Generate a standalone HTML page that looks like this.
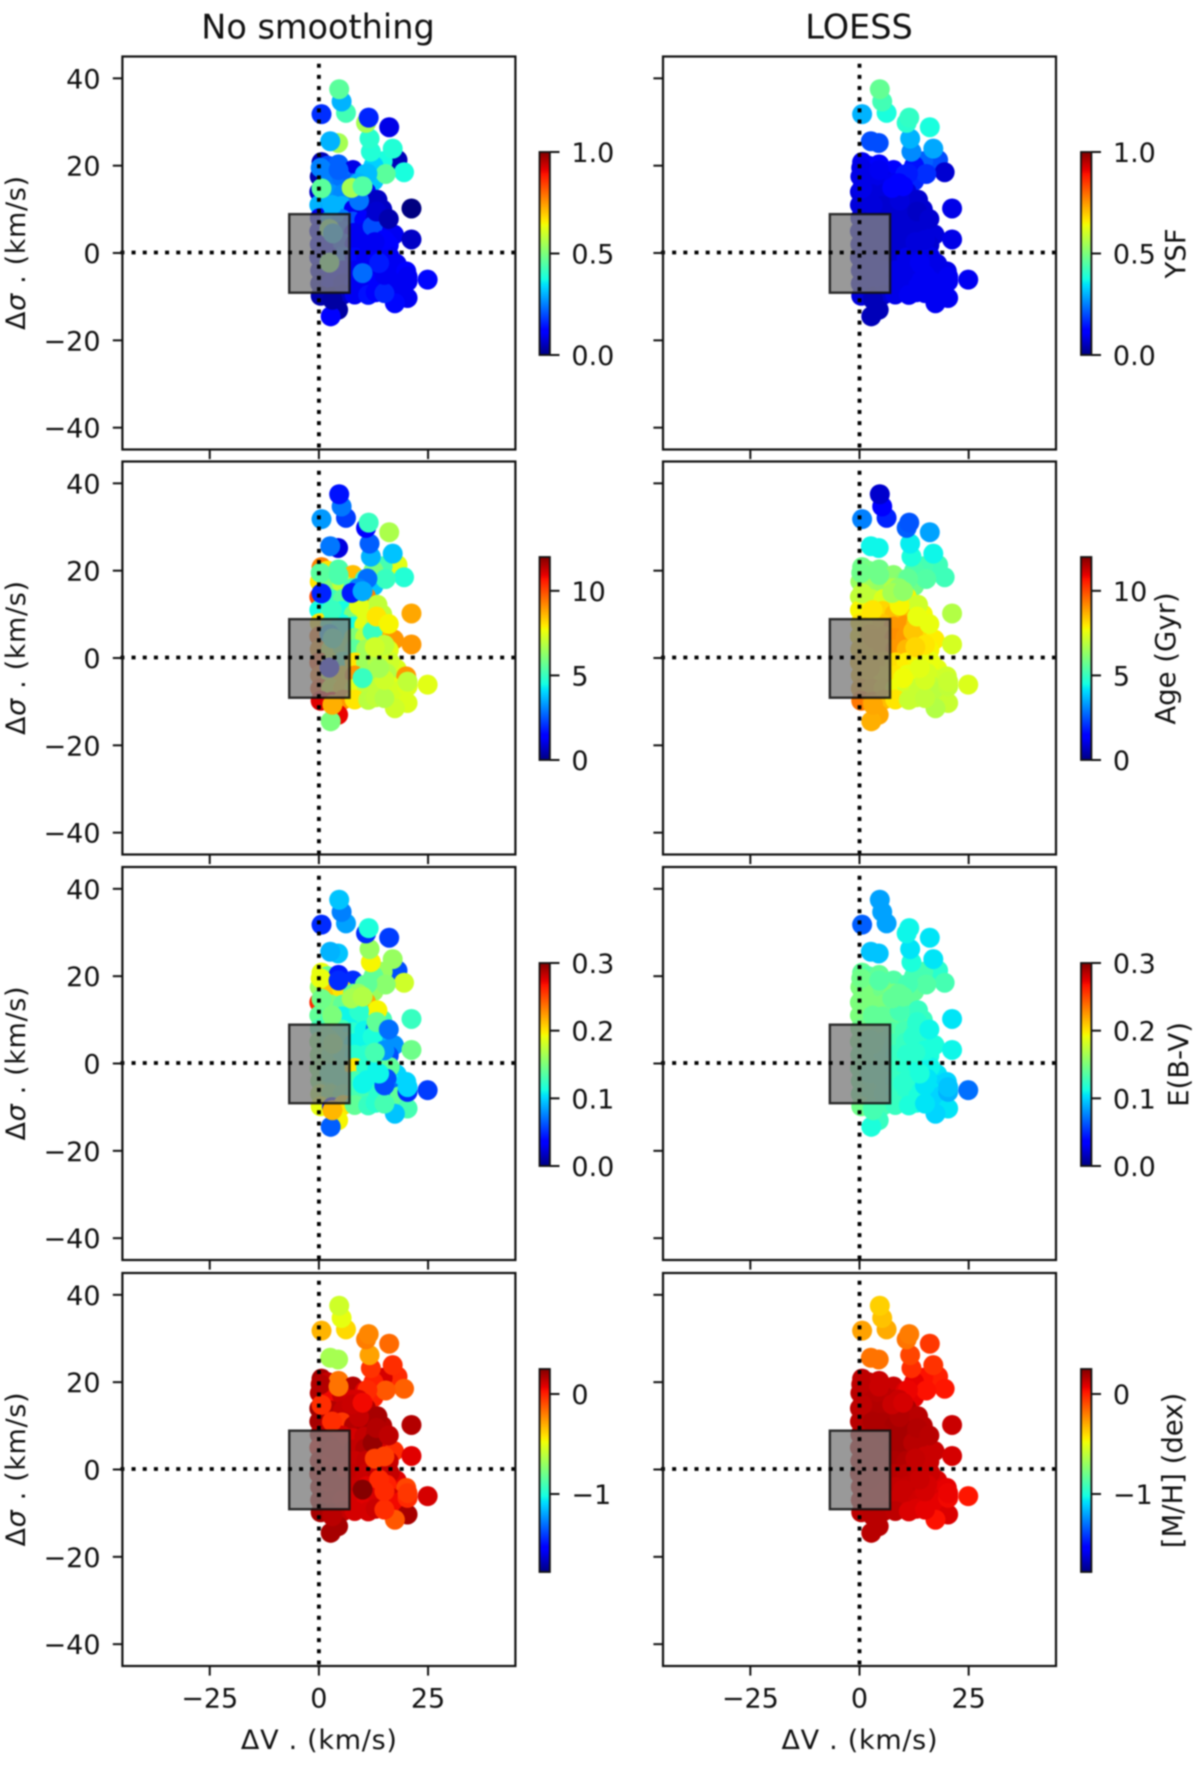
<!DOCTYPE html>
<html lang="en">
<head>
<meta charset="utf-8">
<title>Stellar population maps: No smoothing vs LOESS</title>
<style>
html,body{margin:0;padding:0;background:#fff;}
#chart{display:block;width:1200px;height:1765px;filter:blur(0.9px);font-family:"DejaVu Sans","Liberation Sans",sans-serif;fill:#111;}
</style>
</head>
<body>
<svg id="chart" xmlns="http://www.w3.org/2000/svg" width="1200" height="1765" viewBox="0 0 1200 1765">
<defs>
<linearGradient id="jet-gradient" x1="0" y1="1" x2="0" y2="0"></linearGradient>
</defs>
</svg>
<script>
const deltaV = [
17.8,18,
0.6,2.0,4.5,7.8,10.5,12.5,0.2,2.8,5.3,7.8,
0.1,2.7,5.5,8.3,10.8,0.1,2.8,5.3,8,10.6,
0.2,2.6,5.2,7.8,10.4,13,14.5,0.1,2.8,5.5,
8,10.6,13.4,15.5,17.2,0.2,2.8,5.5,8.2,10.8,
13.4,16,0.1,2.8,5.5,8.2,10.8,13.4,16.2,0.3,
2.8,5.5,8.2,11,15.5,20,0.3,2.8,5.5,8.2,
11,13.6,16.5,18.5,0.4,3,5.6,8.2,20.3,4.4,
2.7,3.1,11.3,13,17.4,15,20.3,20.3,15,13.8,
10,2.4,2.4,3.2,12.3,15,12.8,13.4,13.2,16,
9.2,3,21.2,21.2,24.9,18,14.6,12.5,19.5,15.3,
11.1,9,7.5,10,0.6,0.4,4.5,16.9,11.9,11.6,
4.4,2.6,16.1,10.8,11.4,0.6,6.2,5.2,4.65];
const deltaSigma = [
-2.5,-5,
20.8,20,20.3,19,18,16.5,17.5,16.8,17,16,
14,13.5,13.5,13.2,14,11,10.5,10.8,10,10.8,
8,7.6,7.8,7.2,7.5,8,10,5,4.8,5,
4.6,4.8,5,4.5,4.2,2,2,2.2,2,2,
2.2,1.8,-1,-1,-0.8,-1,-1,-1,-0.8,-4,
-4,-4,-4,-3.8,-3.5,-4.2,-7,-7,-7,-7,
-6.8,-6.8,-6.5,-7.5,-9.8,-10,-9.5,-9.5,-10.3,-13,
-14.5,-10.7,-9.6,-9,-11.5,-9.2,-6.5,-5.4,-5,-2.3,
-4.6,-2.2,5.5,4.5,6.1,3,2.5,12.2,9.5,7.8,
12,11,10.2,3.1,-6.1,21.3,21,20,18.5,18.1,
18.2,16,14.9,15.3,14.8,19.5,19,23.9,23.2,26.2,
25.2,25.6,28.8,29.8,31,31.8,32.1,34.7,37.5];

const ysfRaw = [
.1,.1,
.05,.2,.22,.09,.3,.32,.04,.25,.24,.22,
.06,.27,.26,.22,.1,.3,.28,.3,.1,.08,
.1,.28,.25,.2,.11,.08,.06,.1,.26,.22,
.1,.1,.1,.1,.1,.12,.13,.2,.1,.1,
.12,.12,.1,.13,.22,.13,.1,.11,.1,.08,
.1,.12,.1,.1,.1,.11,.06,.1,.08,.1,
.1,.11,.1,.1,.04,.04,.06,.1,.1,.03,
.11,.03,.14,.12,.13,.16,.1,.1,.1,.15,
.23,.5,.5,.3,.2,.12,.1,.06,.07,.04,
.24,.3,.0,.06,.13,.05,.38,.33,.38,.46,
.31,.3,.55,.45,.46,.25,.22,.39,.39,.4,
.55,.3,.09,.55,.16,.17,.43,.3,.46];
const ysfLoess = [
.09,.09,
.1,.1,.11,.12,.15,.16,.09,.09,.09,.1,
.08,.08,.08,.08,.08,.08,.08,.07,.07,.07,
.08,.07,.07,.07,.07,.07,.07,.08,.07,.07,
.07,.07,.07,.07,.08,.08,.07,.07,.07,.07,
.07,.07,.08,.07,.07,.07,.09,.09,.09,.08,
.08,.08,.09,.09,.09,.09,.08,.08,.08,.09,
.09,.1,.1,.1,.08,.06,.07,.09,.1,.05,
.05,.05,.1,.1,.1,.1,.1,.1,.1,.1,
.09,.08,.07,.07,.07,.08,.08,.07,.06,.07,
.08,.08,.09,.09,.1,.2,.22,.14,.07,.17,
.15,.11,.11,.11,.09,.09,.1,.29,.26,.3,
.2,.2,.38,.4,.41,.3,.38,.43,.47];
const ageRaw = [
7.4,7.2,
9.3,8,5.3,8.5,5,3.8,8,6,7,5.2,
10,5,5.5,5.2,9.3,4.5,5.5,4.5,6,7.5,
8,5,4.5,4.5,7.5,7.2,7,9.5,5,4.5,
6,7,6.5,8.5,9,9,7,6,5.5,6.5,
6.5,7.5,10,7,5,8,6.5,6.8,7.2,9.5,
7,8,9,6.5,6.8,9,10,7.5,8,7.5,
7,7,7.5,7.3,11,10.8,9,8,7.4,10.9,
6,8.7,6.9,7,7.2,6.8,7.4,7,7.2,6.6,
5,1.6,3.7,5,5,7,7.2,7,8,7.8,
7.5,5,8.8,9,7.5,7.5,5.2,6,4.7,5,
2.8,3,1.8,3.5,1.9,5.5,5.3,3.8,3.6,2.6,
1,2.9,6.7,1.5,5,3.3,2.2,2.9,1.7];
const ageLoess = [
7.5,7.2,
5.8,5.9,5.8,6.2,6.1,5.8,6.4,6.5,6.4,6.8,
7,7,7.4,7.5,7.8,7.8,8,8.2,8.5,8.6,
8,8.2,8.4,9,9,8.5,7.7,8,8.3,8.6,
9.1,9,8.5,8.1,7.9,8.3,8.4,8.6,9,8.6,
8.2,7.8,8.5,8.3,8.3,8.1,7.9,7.8,7.6,8.5,
8.3,8.1,8,7.6,7.3,7.2,8.8,8.5,8.2,7.7,
7.3,7.1,7,6.9,9.4,9,8.5,8,7.1,8.8,
8.7,8.8,7.1,7.1,6.8,7,7,7.1,7.3,7.5,
7.7,8.4,8.5,8.6,8.4,8,8.2,7.2,7.6,7.6,
7.8,8,6.8,7.3,7.4,5.1,5.2,5.3,5.1,5.4,
5.6,6.3,6.6,6.3,7,5.8,5.8,4.4,4.6,4.3,
4.4,4.4,3.4,2.6,2.5,3,1.9,1.4,.8];
const ebvRaw = [
.1,.11,
.19,.14,.045,.05,.14,.16,.16,.21,.2,.14,
.26,.15,.14,.13,.22,.14,.12,.11,.11,.12,
.13,.14,.13,.12,.11,.07,.13,.15,.14,.13,
.11,.11,.13,.09,.08,.15,.14,.13,.12,.12,
.07,.06,.15,.14,.13,.2,.12,.11,.14,.15,
.14,.13,.13,.11,.06,.1,.17,.15,.14,.13,
.13,.12,.07,.14,.19,.04,.2,.14,.13,.195,
.065,.215,.125,.12,.095,.13,.05,.1,.06,.11,
.11,.13,.14,.15,.115,.08,.13,.195,.14,.07,
.12,.15,.125,.145,.055,.06,.16,.14,.18,.155,
.14,.16,.165,.17,.145,.19,.05,.16,.195,.16,
.095,.09,.055,.05,.115,.05,.085,.075,.095];
const ebvLoess = [
.105,.1,
.14,.135,.14,.135,.135,.14,.15,.15,.145,.15,
.15,.15,.15,.145,.14,.15,.15,.14,.14,.135,
.145,.145,.14,.135,.13,.125,.125,.145,.14,.135,
.13,.125,.12,.12,.115,.14,.135,.13,.125,.12,
.12,.115,.14,.135,.13,.125,.12,.115,.11,.14,
.135,.13,.125,.12,.105,.1,.14,.135,.13,.125,
.12,.115,.105,.1,.145,.135,.13,.125,.105,.125,
.115,.13,.115,.115,.1,.105,.09,.095,.105,.115,
.12,.13,.135,.135,.12,.115,.12,.125,.12,.11,
.13,.14,.105,.11,.07,.12,.13,.13,.13,.135,
.13,.14,.14,.14,.15,.145,.135,.105,.115,.105,
.095,.095,.105,.11,.11,.065,.085,.085,.085];
const mhRaw = [
.08,.06,
.18,.13,-.18,.16,.08,0,.16,.05,.12,.1,
.2,.16,.13,.16,.16,.18,.12,-.05,.16,.18,
.16,.12,.1,.1,.13,.16,.16,.05,.1,.1,
.13,.16,.18,.1,-.03,.13,.1,.12,.12,.13,
-.05,.12,.13,.12,.1,.13,.12,.13,.13,.16,
.12,.13,.12,.08,0,-.08,.16,.13,.12,.1,
.08,.1,.1,.05,.18,.16,.13,.1,.18,.18,
.18,.15,.1,.12,-.12,-.03,-.02,-.05,-.02,-.02,
.24,.13,.13,.12,.21,-.07,-.07,.18,.16,.14,
.13,-.03,.16,.08,.1,-.02,.1,0,-.14,-.12,
-.02,.1,.12,.05,-.03,.16,-.18,-.03,-.04,-.28,
-.66,-.66,-.16,-.2,-.22,-.32,-.4,-.5,-.56];
const mhLoess = [
.09,.08,
.14,.14,.12,.12,.09,.07,.15,.15,.15,.14,
.15,.16,.16,.16,.17,.15,.16,.17,.18,.18,
.15,.16,.17,.18,.18,.17,.15,.15,.16,.17,
.18,.18,.16,.15,.12,.15,.16,.16,.17,.16,
.15,.12,.15,.15,.15,.15,.14,.13,.12,.14,
.14,.14,.13,.13,.1,.07,.14,.14,.14,.12,
.12,.11,.09,.07,.14,.15,.15,.14,.09,.15,
.15,.15,.09,.09,.03,.07,.05,.06,.1,.12,
.12,.15,.16,.16,.15,.12,.13,.15,.16,.15,
.16,.17,.12,.1,.02,0,.03,.07,.02,.03,
.06,.12,.12,.1,.14,.14,.12,-.04,-.03,-.08,
-.18,-.18,-.05,-.18,-.2,-.28,-.3,-.35,-.38];

const columnTitles = ["No smoothing","LOESS"];
const rowNames = ["ysf","age","ebv","mh"];
const colorbarTitles = ["YSF","Age (Gyr)","E(B-V)","[M/H] (dex)"];
const colorMin = [0,0,0,-1.78];
const colorMax = [1,12,0.3,0.25];
const colorbarTicks = [[0,0.5,1],[0,5,10],[0,0.1,0.2,0.3],[-1,0]];
const colorbarTickLabels = [["0.0","0.5","1.0"],["0","5","10"],["0.0","0.1","0.2","0.3"],["\u22121","0"]];
const xTicks = [-25,0,25];
const xTickLabels = ["\u221225","0","25"];
const yTicks = [-40,-20,0,20,40];
const yTickLabels = ["\u221240","\u221220","0","20","40"];
const axisLimit = 45;
const regionV = [-6.8,7];
const regionSigma = [-9.1,8.9];

const rowSeries = [[ysfRaw,ysfLoess],[ageRaw,ageLoess],[ebvRaw,ebvLoess],[mhRaw,mhLoess]];

const svg = document.getElementById('chart');
const NS = 'http://www.w3.org/2000/svg';
const axLeft = [122.4,663], axW = 393, axH = 393;
const axTop = [56.5,461.5,867,1273];
const barLeft = [539.5,1081], barW = 10.4;
const barTop = [152,557,963,1369], barH = 203;
const titleX = [318,859], cbLabelX = [1176,1166,1179,1173];
const dashPhase = [65.7,472.7,877.7,1282.7];

function make(tag, attrs, parent){
  const e = document.createElementNS(NS, tag);
  for (const k in attrs) e.setAttribute(k, attrs[k]);
  (parent || svg).appendChild(e);
  return e;
}
function xScale(v, col){ return axLeft[col] + (v + axisLimit) / (2 * axisLimit) * axW; }
function yScale(v, row){ return axTop[row] + (axisLimit - v) / (2 * axisLimit) * axH; }
function cbScale(v, row){ return barTop[row] + barH * (1 - (v - colorMin[row]) / (colorMax[row] - colorMin[row])); }

function lerpTable(t, tbl){
  for (let i = 1; i < tbl.length; i++){
    if (t <= tbl[i][0]){
      const a = tbl[i-1], b = tbl[i];
      return a[1] + (b[1]-a[1]) * (t-a[0]) / (b[0]-a[0]);
    }
  }
  return tbl[tbl.length-1][1];
}
function jet(t){
  t = Math.max(0, Math.min(1, t));
  const r = lerpTable(t, [[0,0],[.35,0],[.66,1],[.89,1],[1,.5]]);
  const g = lerpTable(t, [[0,0],[.125,0],[.375,1],[.64,1],[.91,0],[1,0]]);
  const b = lerpTable(t, [[0,.5],[.11,1],[.34,1],[.65,0],[1,0]]);
  return 'rgb(' + Math.round(r*255) + ',' + Math.round(g*255) + ',' + Math.round(b*255) + ')';
}

const grad = document.getElementById('jet-gradient');
[0,.11,.125,.34,.35,.375,.64,.65,.66,.89,.91,1].forEach(function(s){
  make('stop', {offset: s, 'stop-color': jet(s)}, grad);
});

columnTitles.forEach(function(t, c){
  const title = make('text', {x: titleX[c], y: 38.5, 'text-anchor': 'middle', 'font-size': 33.5});
  
  
  title.textContent = t;
});

for (let r = 0; r < 4; r++){
  for (let c = 0; c < 2; c++){
    const group = make('g', {});
    
    
    const L = axLeft[c], T = axTop[r];
    const values = rowSeries[r][c];

    for (let i = 0; i < deltaV.length; i++){
      if (values[i] === undefined) continue;
      const dot = make('circle', {
        cx: xScale(deltaV[i], c), cy: yScale(deltaSigma[i], r), r: 10,
        fill: jet((values[i] - colorMin[r]) / (colorMax[r] - colorMin[r]))
      }, group);
      
      
    }

    const region = make('rect', {
      x: xScale(regionV[0], c), y: yScale(regionSigma[1], r),
      width: xScale(regionV[1], c) - xScale(regionV[0], c),
      height: yScale(regionSigma[0], r) - yScale(regionSigma[1], r),
      fill: 'rgb(128,128,128)', 'fill-opacity': 0.8,
      stroke: '#111', 'stroke-opacity': 0.85, 'stroke-width': 2.4
    }, group);
    
    

    const hLine = make('line', {
      x1: L - 2, x2: L + axW, y1: yScale(0, r) - 0.5, y2: yScale(0, r) - 0.5,
      stroke: '#000', 'stroke-width': 3.8, 'stroke-dasharray': '4 7.17'
    }, group);
    
    

    const vLine = make('line', {
      x1: xScale(0, c), x2: xScale(0, c), y1: dashPhase[r] - 2, y2: T + axH,
      stroke: '#000', 'stroke-width': 3.8, 'stroke-dasharray': '4 7.17'
    }, group);
    
    

    const frame = make('rect', {
      x: L, y: T, width: axW, height: axH, fill: 'none', stroke: '#111', 'stroke-width': 2.2
    }, group);
    
    

    xTicks.forEach(function(v, i){
      const px = xScale(v, c);
      const tick = make('line', {x1: px, x2: px, y1: T + axH, y2: T + axH + 9.6, stroke: '#111', 'stroke-width': 2}, group);
      
      
      if (r === 3){
        const lab = make('text', {x: px, y: T + axH + 41.5, 'text-anchor': 'middle', 'font-size': 27}, group);
        
        
        lab.textContent = xTickLabels[i];
      }
    });
    yTicks.forEach(function(v, i){
      const py = yScale(v, r);
      const tick = make('line', {x1: L - 9.6, x2: L, y1: py, y2: py, stroke: '#111', 'stroke-width': 2}, group);
      
      
      if (c === 0){
        const lab = make('text', {x: 100.5, y: py + 10, 'text-anchor': 'end', 'font-size': 27}, group);
        
        
        lab.textContent = yTickLabels[i];
      }
    });

    if (c === 0){
      const cy = yScale(0, r);
      const yl = make('text', {x: 0, y: 0, 'text-anchor': 'middle', 'font-size': 27, textLength: 154, lengthAdjust: 'spacing',
        transform: 'translate(25,' + cy + ') rotate(-90)'}, group);
      
      
      yl.innerHTML = '\u0394<tspan font-style="italic">\u03C3</tspan> . (km/s)';
    }
    if (r === 3){
      const xl = make('text', {x: xScale(0, c), y: 1749, 'text-anchor': 'middle', 'font-size': 27, textLength: 156, lengthAdjust: 'spacing'}, group);
      
      
      xl.textContent = '\u0394V . (km/s)';
    }

    const bar = make('g', {}, group);
    
    
    make('rect', {x: barLeft[c], y: barTop[r], width: barW, height: barH,
      fill: 'url(#jet-gradient)', stroke: '#111', 'stroke-width': 1.8}, bar);
    colorbarTicks[r].forEach(function(v, i){
      const py = cbScale(v, r);
      const tick = make('line', {x1: barLeft[c] + barW, x2: barLeft[c] + barW + 9.6, y1: py, y2: py, stroke: '#111', 'stroke-width': 2}, bar);
      
      
      const lab = make('text', {x: barLeft[c] + barW + 21.5, y: py + 10, 'font-size': 27}, bar);
      
      
      lab.textContent = colorbarTickLabels[r][i];
    });
    if (c === 1){
      const cl = make('text', {x: 0, y: 0, 'text-anchor': 'middle', 'font-size': 27.5,
        transform: 'translate(' + (cbLabelX[r] + 9) + ',' + (barTop[r] + barH / 2) + ') rotate(-90)'}, bar);
      
      
      cl.textContent = colorbarTitles[r];
    }
  }
}
</script>
</body>
</html>
